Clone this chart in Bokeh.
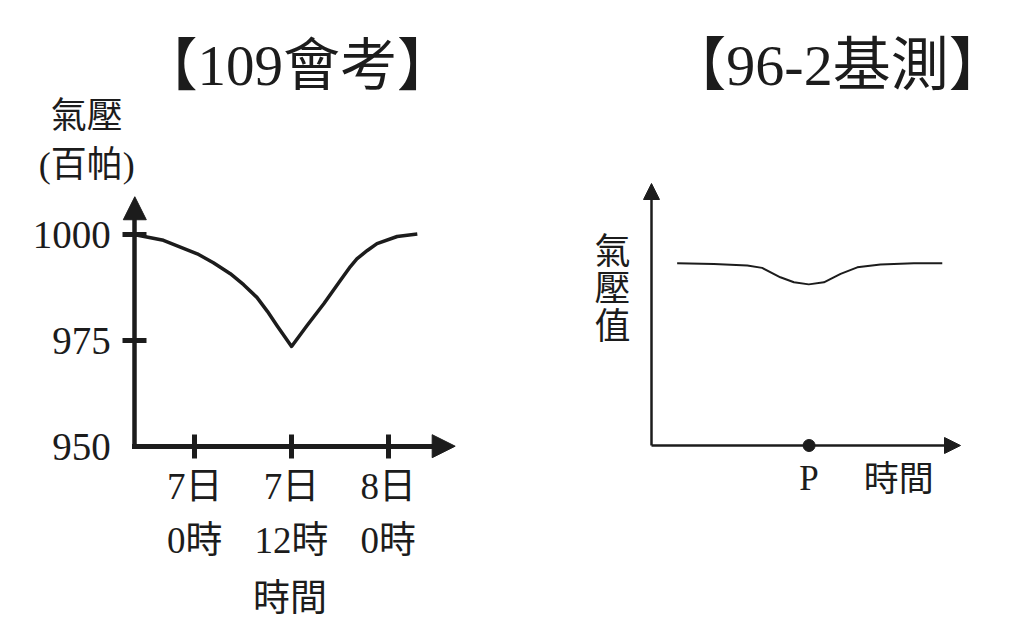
from bokeh.plotting import figure
from bokeh.layouts import row
from bokeh.models import FixedTicker, Label, Arrow, NormalHead
from bokeh.embed import file_html
from bokeh.resources import INLINE

INK = "#1c1c1c"
SERIF_CJK = "'Liberation Serif', 'Noto Sans CJK TC'"
SANS_CJK = "'Noto Sans CJK TC', 'Noto Sans'"

# ---------------- data: left chart 【109會考】 ----------------
left_title = "【109會考】"
left_ylabel = "氣壓\n(百帕)"
left_xlabel = "時間"
hours = [-7.4, -3.9, 0.3, 2.3, 4.4, 6.05, 7.7, 9.0, 10.2, 12.0,
         13.9, 16.0, 18.05, 19.3, 20.1, 21.4, 22.6, 25.1, 27.6]
pressure_hpa = [1000.0, 998.7, 995.5, 993.4, 990.8, 988.2, 985.2, 981.9, 978.5, 973.6,
                978.5, 983.7, 989.2, 992.5, 994.3, 996.3, 997.9, 999.6, 1000.2]
x_tick_hours = [0, 12, 24]
x_tick_labels = ["7日\n0時", "7日\n12時", "8日\n0時"]
y_tick_values = [975, 1000]
y_tick_labels = ["975", "1000"]
y_base_value = 950
y_base_label = "950"

# ---------------- data: right chart 【96-2基測】 ----------------
right_title = "【96-2基測】"
right_ylabel = "氣\n壓\n值"
right_xlabel = "時間"
p_label = "P"
p_time = 51
time_units = [8.3, 20.2, 31.0, 35.8, 41.7, 46.1, 50.9, 55.8, 61.2, 66.6, 74.1, 84.9, 94.1]
pressure_units = [69.6, 69.3, 68.7, 67.8, 64.2, 62.3, 61.5, 62.3, 65.5, 68.0, 69.1, 69.6, 69.6]

FIG_H = 634

# ================= left figure =================
L_W = 512
X0, X1 = -7.45, 32.3          # axis extent (hours)
Y0, Y1 = 950, 1009            # axis extent (hPa)
LX_PX = 8.06                  # px per hour
LY_PX = 4.228                 # px per hPa
lx_start = X0 - 134.3 / LX_PX
ly_top = 1000 + 234.3 / LY_PX
p1 = figure(width=L_W, height=FIG_H,
            x_range=(lx_start, lx_start + L_W / LX_PX),
            y_range=(ly_top - FIG_H / LY_PX, ly_top),
            output_backend="svg", toolbar_location=None)
p1.min_border = 0
p1.outline_line_color = None
p1.grid.visible = False
p1.background_fill_color = "white"
p1.border_fill_color = "white"

p1.line(hours, pressure_hpa, line_color=INK, line_width=3.5, line_join="round")

xa = p1.xaxis[0]
xa.fixed_location = Y0
xa.ticker = FixedTicker(ticks=x_tick_hours)
xa.major_label_overrides = {t: lab for t, lab in zip(x_tick_hours, x_tick_labels)}
xa.bounds = (X0, X1 - 1.2)
xa.axis_line_width = 5
xa.axis_line_color = INK
xa.axis_line_cap = "square"
xa.major_tick_line_width = 5
xa.major_tick_line_color = INK
xa.major_tick_in = 12
xa.major_tick_out = 12
xa.minor_tick_line_color = None
xa.major_label_text_font = SERIF_CJK
xa.major_label_text_font_size = "37px"
xa.major_label_text_color = INK
xa.major_label_text_line_height = 1.3
xa.major_label_standoff = 8
xa.axis_label = left_xlabel
xa.axis_label_text_font = SERIF_CJK
xa.axis_label_text_font_size = "37px"
xa.axis_label_text_font_style = "normal"
xa.axis_label_text_color = INK
xa.axis_label_standoff = 14

ya = p1.yaxis[0]
ya.fixed_location = X0
ya.ticker = FixedTicker(ticks=y_tick_values)
ya.major_label_overrides = {t: lab for t, lab in zip(y_tick_values, y_tick_labels)}
ya.bounds = (Y0, Y1 - 2.5)
ya.axis_line_width = 4.5
ya.axis_line_color = INK
ya.axis_line_cap = "square"
ya.major_tick_line_width = 5
ya.major_tick_line_color = INK
ya.major_tick_in = 12
ya.major_tick_out = 12
ya.minor_tick_line_color = None
ya.major_label_text_font = SERIF_CJK
ya.major_label_text_font_size = "39px"
ya.major_label_text_color = INK
ya.major_label_standoff = 12

# arrow heads
p1.add_layout(Arrow(x_start=X0, y_start=Y1 - 3, x_end=X0, y_end=Y1, line_color=None,
                    end=NormalHead(size=23, fill_color=INK, line_color=INK, line_width=1)))
p1.add_layout(Arrow(x_start=X1 - 2, y_start=Y0, x_end=X1, y_end=Y0, line_color=None,
                    end=NormalHead(size=23, fill_color=INK, line_color=INK, line_width=1)))

p1.add_layout(Label(x=X0, y=y_base_value, text=y_base_label, x_offset=-24, y_offset=-1,
                    text_align="right", text_baseline="middle",
                    text_font=SERIF_CJK, text_font_size="39px", text_color=INK))
p1.add_layout(Label(x=X0, y=Y1, text=left_ylabel, x_offset=-48, y_offset=12,
                    text_align="center", text_baseline="bottom", text_line_height=1.22,
                    text_font=SERIF_CJK, text_font_size="36px", text_color=INK))
p1.add_layout(Label(x=12.7, y=Y1, text=left_title, y_offset=131,
                    text_align="center", text_baseline="middle",
                    text_font=SERIF_CJK, text_font_size="57px", text_color=INK))

# ================= right figure =================
R_W = 503
RX0, RX1 = 0, 100
RY0, RY1 = 0, 100
RX_PX = 3.09
RY_PX = 2.62
rx_start = -(651 - L_W) / RX_PX
ry_top = 445 / RY_PX
p2 = figure(width=R_W, height=FIG_H,
            x_range=(rx_start, rx_start + R_W / RX_PX),
            y_range=(ry_top - FIG_H / RY_PX, ry_top),
            output_backend="svg", toolbar_location=None)
p2.min_border = 0
p2.outline_line_color = None
p2.grid.visible = False
p2.background_fill_color = "white"
p2.border_fill_color = "white"

p2.line(time_units, pressure_units, line_color=INK, line_width=2, line_join="round")
p2.scatter([p_time], [RY0], size=12, fill_color=INK, line_color=INK)

xb = p2.xaxis[0]
xb.fixed_location = RY0
xb.bounds = (RX0, RX1 - 1.5)
xb.ticker = FixedTicker(ticks=[p_time])
xb.major_label_overrides = {p_time: p_label}
xb.axis_line_width = 2.5
xb.axis_line_color = INK
xb.major_tick_line_color = None
xb.major_tick_in = 0
xb.major_tick_out = 0
xb.minor_tick_line_color = None
xb.major_label_text_font = "'Liberation Serif'"
xb.major_label_text_font_size = "35px"
xb.major_label_text_color = INK
xb.major_label_standoff = 13

yb = p2.yaxis[0]
yb.fixed_location = RX0
yb.bounds = (RY0, RY1 - 1.5)
yb.ticker = FixedTicker(ticks=[])
yb.axis_line_width = 2.5
yb.axis_line_color = INK
yb.major_tick_line_color = None
yb.minor_tick_line_color = None
yb.major_label_text_font_size = "0px"

p2.add_layout(Arrow(x_start=RX0, y_start=RY1 - 3, x_end=RX0, y_end=RY1, line_color=None,
                    end=NormalHead(size=16, fill_color=INK, line_color=INK, line_width=1)))
p2.add_layout(Arrow(x_start=RX1 - 3, y_start=RY0, x_end=RX1, y_end=RY0, line_color=None,
                    end=NormalHead(size=16, fill_color=INK, line_color=INK, line_width=1)))

p2.add_layout(Label(x=RX0, y=RY1, text=right_ylabel, x_offset=-39, y_offset=-102,
                    text_align="center", text_baseline="middle", text_line_height=0.72,
                    text_font=SANS_CJK, text_font_size="36px", text_color=INK))
p2.add_layout(Label(x=80, y=RY0, text=right_xlabel, y_offset=-30,
                    text_align="center", text_baseline="middle",
                    text_font=SANS_CJK, text_font_size="35px", text_color=INK))
p2.add_layout(Label(x=60.2, y=RY1, text=right_title, y_offset=118,
                    text_align="center", text_baseline="middle",
                    text_font=SERIF_CJK, text_font_size="58px", text_color=INK))

layout = row(p1, p2)
open("out.html", "w").write(file_html(layout, INLINE))
